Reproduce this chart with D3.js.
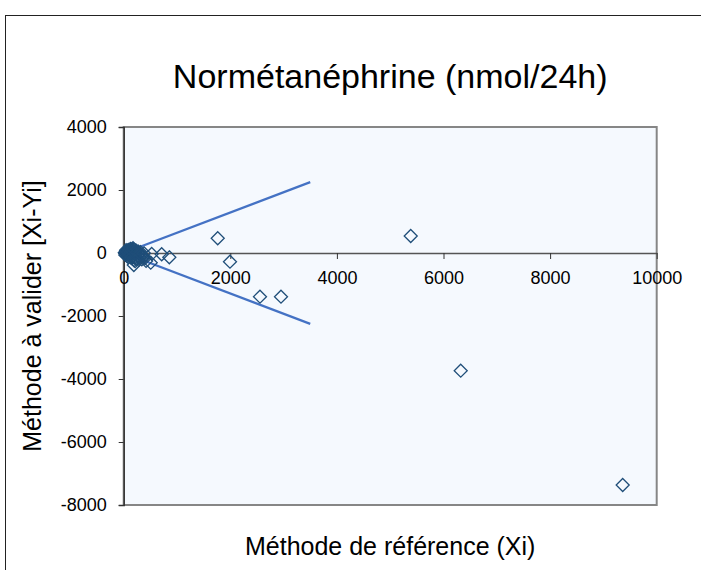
<!DOCTYPE html>
<html><head><meta charset="utf-8">
<script src="https://cdn.jsdelivr.net/npm/d3@7"></script>
<style>
html,body{margin:0;padding:0;background:#fff;}
svg{display:block;font-family:"Liberation Sans",Arial,sans-serif;}
</style></head>
<body><svg id="c" width="701" height="570"></svg>
<script>
// ---- data ----
const title = "Normétanéphrine (nmol/24h)";
const xLabel = "Méthode de référence (Xi)";
const yLabel = "Méthode à valider [Xi-Yi]";
const refX = [20,35,40,50,55,60,70,75,80,90,95,100,110,115,120,130,135,140,150,155,160,170,180,185,190,200,210,220,230,240,250,260,270,280,290,300,310,320,340,360,380,400,420,30,65,45,85,125,145,195,175,215,
  190,507,525,713,856,1764,1994,2557,2951,5385,6323,9362];
const diffY = [10,-5,30,60,-20,15,80,-40,40,-10,100,20,-60,50,-15,90,-90,30,-30,120,-120,60,0,-70,110,-150,40,-40,80,-180,10,-100,50,-220,-20,-140,30,-60,-200,-100,-10,-160,-250,-60,-100,90,-130,130,-160,-230,150,-260,
  -381,-308,-30,-40,-137,467,-276,-1387,-1387,540,-3736,-7365];
const limitX = [0, 3500];
const limitUpper = [0, 2250];
const limitLower = [0, -2250];
const xTicks = [0,2000,4000,6000,8000,10000];
const yTicks = [4000,2000,0,-2000,-4000,-6000,-8000];

// ---- layout ----
const svg = d3.select("#c");
const L = 123.7, R = 656.7, T = 127, B = 505;
const x = d3.scaleLinear().domain([0,10000]).range([L,R]);
const y = d3.scaleLinear().domain([-8000,4000]).range([B,T]);
const FONT = "Liberation Sans, Arial, sans-serif";

// outer frame
svg.append("rect").attr("x",5.5).attr("y",15.5).attr("width",720).attr("height",600)
  .attr("fill","#fff").attr("stroke","#222").attr("stroke-width",1);

// plot area
svg.append("rect").attr("x",L).attr("y",T).attr("width",R-L).attr("height",B-T)
  .attr("fill","#F5F9FE").attr("stroke","#868686").attr("stroke-width",2);

// y axis
const yAxis = svg.append("g").attr("transform",`translate(${L},0)`)
  .call(d3.axisLeft(y).tickValues(yTicks).tickSize(5).tickPadding(12).tickFormat(d=>String(d)));
yAxis.select(".domain").attr("stroke","#333").attr("stroke-width",1.5);
yAxis.selectAll(".tick line").attr("stroke","#333");
yAxis.selectAll("text").attr("font-size",18).attr("fill","#000").attr("font-family",FONT);

// x axis on zero line
const xAxis = svg.append("g").attr("transform",`translate(0,${y(0)})`)
  .call(d3.axisBottom(x).tickValues(xTicks).tickSize(6).tickPadding(12).tickSizeOuter(0).tickFormat(d=>String(d)));
xAxis.select(".domain").attr("stroke","#555").attr("stroke-width",1.5);
xAxis.selectAll(".tick line").attr("stroke","#333");
xAxis.selectAll("text").attr("font-size",18).attr("fill","#000").attr("font-family",FONT);

// limit lines
const line = d3.line().x(d=>x(d[0])).y(d=>y(d[1]));
[limitUpper, limitLower].forEach(lim=>{
  svg.append("path").datum(limitX.map((v,i)=>[v,lim[i]]))
    .attr("d",line).attr("fill","none").attr("stroke","#4472C4").attr("stroke-width",2.2);
});

// points (diamonds)
const s = 6.5;
svg.append("g").selectAll("path").data(refX.map((v,i)=>[v,diffY[i]])).join("path")
  .attr("d",d=>{const cx=x(d[0]), cy=y(d[1]); return `M${cx},${cy-s}L${cx+s},${cy}L${cx},${cy+s}L${cx-s},${cy}Z`;})
  .attr("fill","none").attr("stroke","#1F4E79").attr("stroke-width",1.3);

// texts
svg.append("text").attr("x",(L+R)/2).attr("y",88).attr("text-anchor","middle")
  .attr("font-size",34).attr("fill","#000").text(title);
svg.append("text").attr("x",(L+R)/2).attr("y",555).attr("text-anchor","middle")
  .attr("font-size",25).attr("fill","#000").text(xLabel);
svg.append("text").attr("transform",`translate(41,${(T+B)/2}) rotate(-90)`).attr("text-anchor","middle")
  .attr("font-size",25).attr("fill","#000").text(yLabel);
</script></body></html>
